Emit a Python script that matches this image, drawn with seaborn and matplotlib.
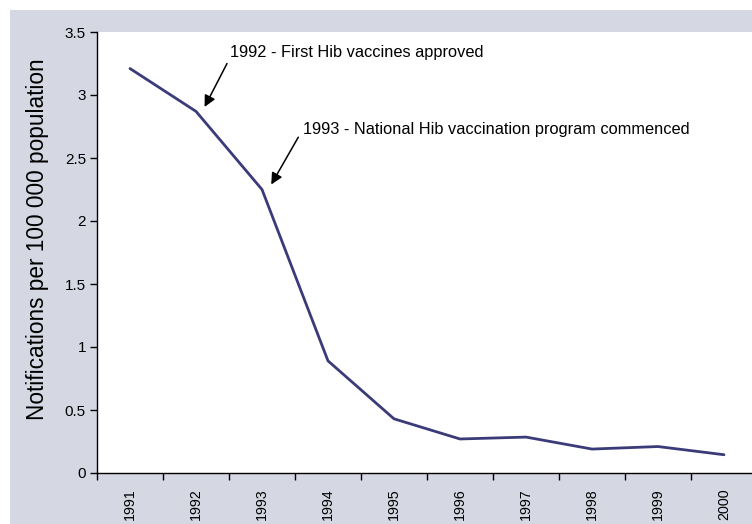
import numpy as np
import pandas as pd
import matplotlib
matplotlib.use("Agg")
import matplotlib.pyplot as plt
from matplotlib.patches import Rectangle
import seaborn as sns

years = ["1991", "1992", "1993", "1994", "1995", "1996", "1997", "1998", "1999", "2000"]
rates = [3.21, 2.87, 2.25, 0.89, 0.43, 0.27, 0.285, 0.19, 0.21, 0.145]
y_ticks = [0, 0.5, 1, 1.5, 2, 2.5, 3, 3.5]
y_tick_labels = ["0", "0.5", "1", "1.5", "2", "2.5", "3", "3.5"]
notes = ["1992 - First Hib vaccines approved",
         "1993 - National Hib vaccination program commenced"]

sns.set_theme(style="white")
plt.rcParams["font.family"] = ["Liberation Sans", "DejaVu Sans"]
plt.rcParams["text.color"] = "black"
plt.rcParams["axes.labelcolor"] = "black"
plt.rcParams["xtick.color"] = "black"
plt.rcParams["ytick.color"] = "black"

W, H = 752, 524
fig = plt.figure(figsize=(W / 100, H / 100), dpi=100)
fig.patch.set_facecolor("white")
fig.patches.append(Rectangle((10 / W, 0), 1, 1 - 10 / H, transform=fig.transFigure,
                             facecolor="#d5d7e3", edgecolor="none", zorder=-10))

ax = fig.add_axes([97 / W, (H - 473) / H, (757 - 97) / W, (473 - 32) / H])
ax.set_facecolor("white")

df = pd.DataFrame({"pos": np.arange(len(years)), "rate": rates})
sns.lineplot(data=df, x="pos", y="rate", ax=ax, color="#3b3b7a", linewidth=2.0)

ax.set_xlim(-0.5, len(years) - 0.5)
ax.set_ylim(0, 3.5)
ax.set_yticks(y_ticks)
ax.set_yticklabels(y_tick_labels, fontsize=11)
ax.set_xticks(np.arange(len(years)))
ax.set_xticklabels(years, rotation=90, fontsize=10.3)
ax.set_xticks(np.arange(len(years) + 1) - 0.5, minor=True)
ax.tick_params(axis="x", which="major", length=0, pad=11)
ax.tick_params(axis="x", which="minor", length=5, width=1, color="black", direction="out", bottom=True)
ax.tick_params(axis="y", which="major", length=5, width=1, color="black", direction="out", left=True, pad=3)
ax.set_xlabel("")
ax.set_ylabel("Notifications per 100 000 population", fontsize=16.3)
ax.yaxis.set_label_coords(-0.072, 0.53)

for s in ["top", "right"]:
    ax.spines[s].set_visible(False)
for s in ["left", "bottom"]:
    ax.spines[s].set_color("black")
    ax.spines[s].set_linewidth(1)

arrow = dict(arrowstyle="-|>", color="black", lw=1.1, mutation_scale=17, shrinkA=0, shrinkB=0)

# first milestone
ax.text(1.52, 3.34, notes[0], fontsize=11.8, ha="left", va="center")
ax.annotate("", xy=(1.13, 2.905), xytext=(1.47, 3.25), arrowprops=arrow)

# second milestone
ax.text(2.62, 2.73, notes[1], fontsize=11.8, ha="left", va="center")
ax.annotate("", xy=(2.14, 2.29), xytext=(2.55, 2.665), arrowprops=arrow)

fig.savefig("out.png", dpi=100, facecolor=fig.get_facecolor())
